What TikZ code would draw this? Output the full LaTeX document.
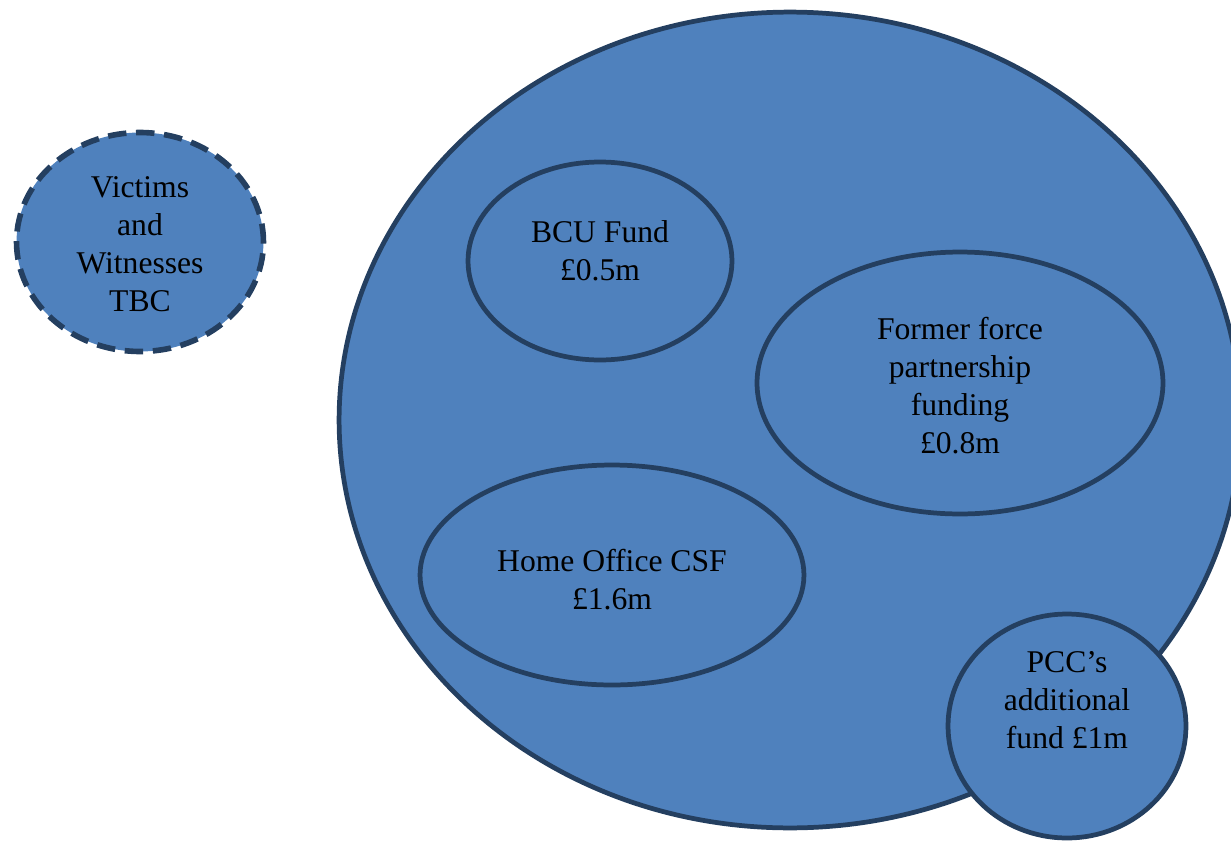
\documentclass[tikz,border=0pt]{standalone}
\usepackage{fontspec}
\setmainfont{Liberation Serif}
\usetikzlibrary{shapes.geometric}
\definecolor{quyxanh}{HTML}{4F81BD}
\definecolor{vienxanh}{HTML}{243F60}
\tikzset{quy/.style={ellipse,draw=vienxanh,fill=quyxanh,line width=2.7pt,inner sep=0pt},
chu/.style={align=center,font=\fontsize{18}{21.6}\selectfont}}
\begin{document}
\begin{tikzpicture}[x=0.02cm,y=-0.02cm]
\useasboundingbox (0,0) rectangle (1231,842);
\clip (0,0) rectangle (1231,842);
% Vòng nét đứt bên trái
\node[quy,line width=3.2pt,dash pattern=on 10.5pt off 5.5pt,minimum width=4.94cm,
minimum height=4.38cm] (nannhan) at (140,242) {};
\node[chu] (nannhantxt) at (140,244) {Victims\\and\\Witnesses\\TBC};
% Vòng lớn
\node[quy,minimum width=18.04cm,minimum height=16.32cm] (tong) at (790,420) {};
% Các quỹ bên trong
\node[quy,minimum width=5.28cm,minimum height=3.96cm] (bcu) at (600,261) {};
\node[chu] (bcutxt) at (600,251) {BCU Fund\\£0.5m};
\node[quy,minimum width=8.12cm,minimum height=5.24cm] (former) at (960,383) {};
\node[chu] (formertxt) at (960,386) {Former force\\partnership\\funding\\£0.8m};
\node[quy,minimum width=7.68cm,minimum height=4.4cm] (homeoffice) at (612,575) {};
\node[chu] (homeofficetxt) at (612,580) {Home Office CSF\\£1.6m};
% Vòng đè lên mép
\node[quy,minimum width=4.76cm,minimum height=4.48cm] (pcc) at (1067,726) {};
\node[chu] (pcctxt) at (1067,700) {PCC’s\\additional\\fund £1m};
\end{tikzpicture}
\end{document}
